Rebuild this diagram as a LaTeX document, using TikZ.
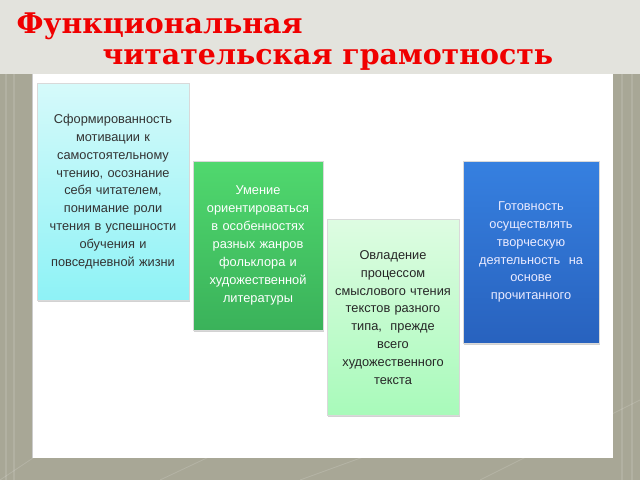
\documentclass[tikz,border=0pt]{standalone}
\usepackage{fontspec}
\setmainfont{Liberation Sans}
\newfontfamily\titlefont{DejaVu Serif}
\usetikzlibrary{shadows}

\definecolor{bandgray}{RGB}{227,227,221}
\definecolor{backgray}{RGB}{168,167,150}
\definecolor{titlered}{RGB}{240,0,0}
\definecolor{cyantop}{RGB}{214,250,250}
\definecolor{cyanbot}{RGB}{142,242,246}
\definecolor{greentop}{RGB}{80,216,110}
\definecolor{greenbot}{RGB}{58,178,90}
\definecolor{mintop}{RGB}{222,252,226}
\definecolor{minbot}{RGB}{168,250,186}
\definecolor{bluetop}{RGB}{54,128,224}
\definecolor{bluebot}{RGB}{40,98,190}

\tikzset{every picture/.style={line width=0.75pt}}
\tikzset{
  skillbox/.style={draw=black!15, line width=0.4pt, align=center, inner sep=2pt,
    font=\fontsize{9.6}{13.4}\selectfont,
    drop shadow={shadow xshift=0.8pt, shadow yshift=-1.6pt, opacity=0.35}},
  titletext/.style={anchor=base west, inner sep=0pt, text=titlered,
    font=\titlefont\bfseries\fontsize{21.3}{24}\selectfont}
}

\begin{document}
\begin{tikzpicture}[x=0.75pt,y=0.75pt,yscale=-1,xscale=1]
	\useasboundingbox (0,0) rectangle (640,480);
	% Background
	\fill [backgray] (0,0) rectangle (640,480);
	\foreach \xa/\xb in {0/120, 160/330, 300/520, 480/640}
		\draw [white, opacity=0.15, line width=0.6pt] (\xa,480) -- (\xb,400);
	\foreach \xs in {6, 14, 622, 632}
		\draw [white, opacity=0.12, line width=2pt] (\xs,74) -- (\xs,480);
	\fill [bandgray] (0,0) rectangle (640,74);
	% Panel
	\fill [white] (32,74) rectangle (613,458);
	\draw [black!20, line width=0.4pt] (32,74) -- (32,458);
	
	% Title
	\node [titletext] (title1) at (16,33) {Функциональная};
	\node [titletext] (title2) at (102,64) {читательская грамотность};
	
	% Box 1
	\node [skillbox, top color=cyantop, bottom color=cyanbot, text=black!80,
		minimum width=114pt, minimum height=162.75pt, text width=108pt]
		(motiv) at (113,191.5) {Сформированность\\ мотивации к\\ самостоятельному\\ чтению, осознание\\ себя читателем,\\ понимание роли\\ чтения в успешности\\ обучения и\\ повседневной жизни};
	% Box 2
	\node [skillbox, top color=greentop, bottom color=greenbot, text=white,
		minimum width=97.5pt, minimum height=126.75pt, text width=93pt]
		(genre) at (258,245.5) {Умение\\ ориентироваться\\ в особенностях\\ разных жанров\\ фольклора и\\ художественной\\ литературы};
	% Box 3
	\node [skillbox, top color=mintop, bottom color=minbot, text=black!85,
		minimum width=99pt, minimum height=147pt, text width=95pt]
		(reading) at (393,317) {\\[-6pt]Овладение\\ процессом\\ смыслового чтения\\ текстов разного\\ типа,\ \ прежде\\ всего\\ художественного\\ текста};
	% Box 4
	\node [skillbox, top color=bluetop, bottom color=bluebot, text=white!92!blue,
		minimum width=102pt, minimum height=136.5pt, text width=97pt]
		(creative) at (531,252) {Готовность\\ осуществлять\\ творческую\\ деятельность\ \ на\\ основе\\ прочитанного};
	
\end{tikzpicture}
\end{document}
